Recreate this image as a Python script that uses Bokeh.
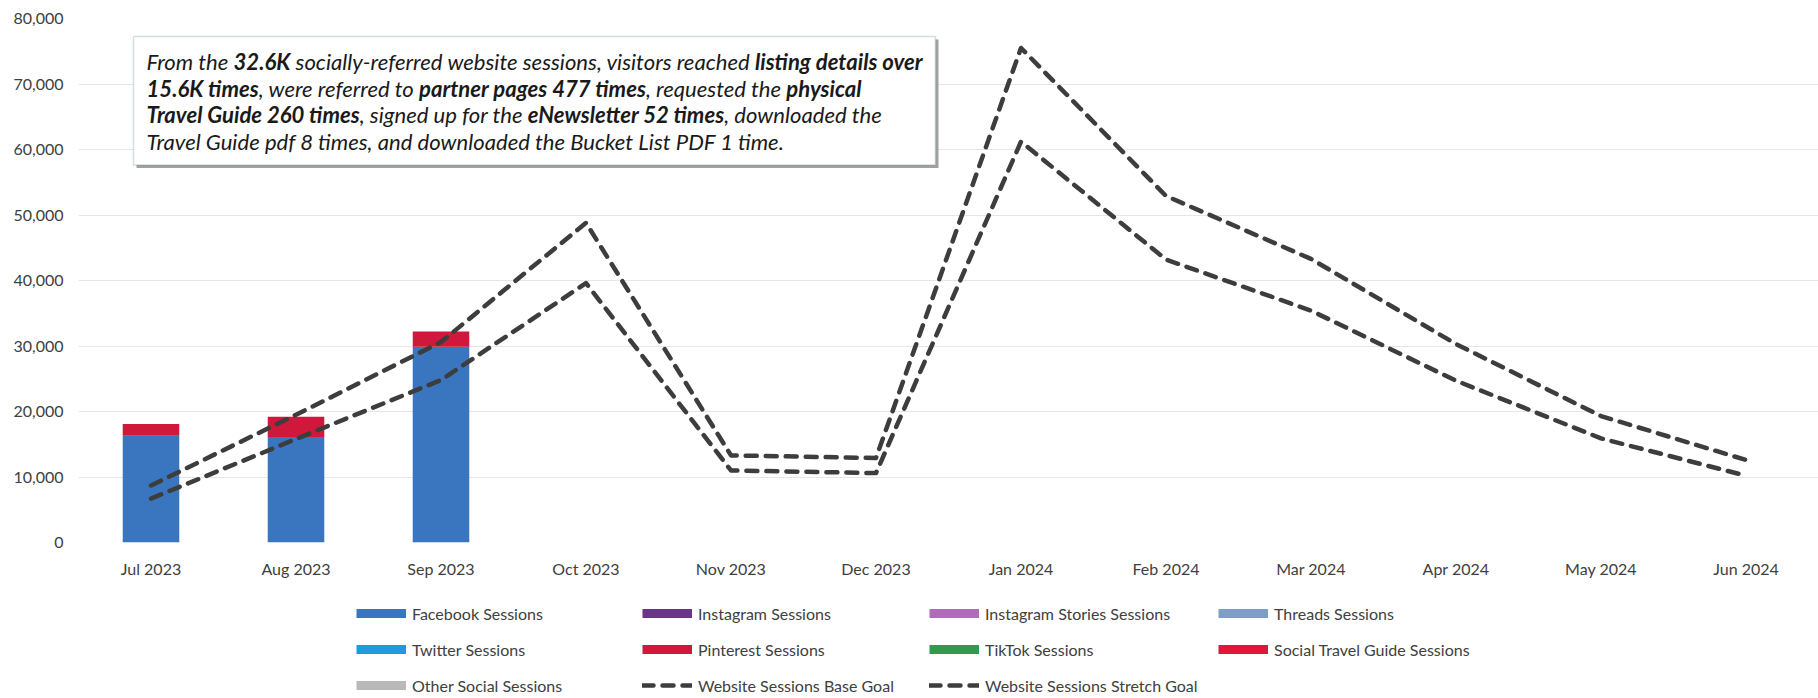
import glob
import os

from bokeh.plotting import figure
from bokeh.layouts import column
from bokeh.models import (FactorRange, Range1d, NumeralTickFormatter, FixedTicker,
                          Legend, LegendItem, Label, BoxAnnotation, ColumnDataSource)
from bokeh.embed import file_html
from bokeh.resources import INLINE

# ---------------- data ----------------
months = ["Jul 2023", "Aug 2023", "Sep 2023", "Oct 2023", "Nov 2023", "Dec 2023",
          "Jan 2024", "Feb 2024", "Mar 2024", "Apr 2024", "May 2024", "Jun 2024"]

facebook_sessions = [16300, 16100, 29900, 0, 0, 0, 0, 0, 0, 0, 0, 0]
instagram_sessions = [0, 0, 0, 0, 0, 0, 0, 0, 0, 0, 0, 0]
instagram_stories_sessions = [0, 0, 0, 0, 0, 0, 0, 0, 0, 0, 0, 0]
threads_sessions = [0, 0, 0, 0, 0, 0, 0, 0, 0, 0, 0, 0]
twitter_sessions = [0, 0, 0, 0, 0, 0, 0, 0, 0, 0, 0, 0]
pinterest_sessions = [1800, 3100, 2300, 0, 0, 0, 0, 0, 0, 0, 0, 0]
tiktok_sessions = [0, 0, 0, 0, 0, 0, 0, 0, 0, 0, 0, 0]
social_travel_guide_sessions = [0, 0, 0, 0, 0, 0, 0, 0, 0, 0, 0, 0]
other_social_sessions = [0, 0, 0, 0, 0, 0, 0, 0, 0, 0, 0, 0]

base_goal = [6700, 15800, 24800, 39600, 11000, 10600, 61200, 43200, 35400, 24700, 15900, 10200]
stretch_goal = [8700, 19500, 30600, 48800, 13300, 12900, 75500, 52900, 43300, 30300, 19300, 12600]

bar_series = ["Facebook Sessions", "Instagram Sessions", "Instagram Stories Sessions",
              "Threads Sessions", "Twitter Sessions", "Pinterest Sessions", "TikTok Sessions",
              "Social Travel Guide Sessions", "Other Social Sessions"]
bar_colors = ["#3a76c0", "#6a3586", "#b06cb8", "#7f9ec6", "#1e9be0", "#d0173c",
              "#2e9b4e", "#e0173a", "#b9b9b9"]
base_label = "Website Sessions Base Goal"
stretch_label = "Website Sessions Stretch Goal"

y_ticks = [0, 10000, 20000, 30000, 40000, 50000, 60000, 70000, 80000]

note_lines = [
    [("From the ", "n"), ("32.6K", "b"), (" socially-referred website sessions, visitors reached ", "n"),
     ("listing details over", "b")],
    [("15.6K times", "b"), (", were referred to ", "n"), ("partner pages 477 times", "b"),
     (", requested the ", "n"), ("physical", "b")],
    [("Travel Guide 260 times", "b"), (", signed up for the ", "n"), ("eNewsletter 52 times", "b"),
     (", downloaded the", "n")],
    [("Travel Guide pdf 8 times, and downloaded the Bucket List PDF 1 time.", "n")],
]

# ---------------- layout constants ----------------
W = 1818
H_MAIN, H_LEG = 580, 118
FL, FR, FT, FB = 78, 0, 18, 36          # frame borders of main figure
frame_w = W - FL - FR
frame_h = H_MAIN - FT - FB
PXU = frame_w / len(months)
PYU = frame_h / (y_ticks[-1] - y_ticks[0])
FRAME_BOTTOM = H_MAIN - FB


def xd(px):
    return (px - FL) / PXU


def yd(py):
    return (FRAME_BOTTOM - py) / PYU


FONT = "Lato"
TXT = "#404040"

p = figure(x_range=FactorRange(*months), y_range=Range1d(y_ticks[0], y_ticks[-1]),
           width=W, height=H_MAIN, output_backend="svg", toolbar_location=None,
           min_border_left=FL, min_border_right=FR, min_border_top=FT, min_border_bottom=FB)
p.outline_line_color = None
p.background_fill_color = "white"
p.border_fill_color = "white"
p.xgrid.grid_line_color = None
p.ygrid.grid_line_color = "#e6e6e6"
p.ygrid.grid_line_width = 1

p.yaxis.ticker = FixedTicker(ticks=y_ticks)
p.yaxis.formatter = NumeralTickFormatter(format="0,0")
for ax in (p.xaxis[0], p.yaxis[0]):
    ax.axis_line_color = None
    ax.major_tick_line_color = None
    ax.minor_tick_line_color = None
    ax.major_tick_out = 0
    ax.major_tick_in = 0
    ax.minor_tick_out = 0
    ax.major_label_text_font = FONT
    ax.major_label_text_font_size = "16px"
    ax.major_label_text_color = TXT
p.xaxis.major_label_standoff = 16
p.yaxis.major_label_standoff = 15

# ---------------- bars ----------------
src = ColumnDataSource(dict(
    month=months,
    **{
        "Facebook Sessions": facebook_sessions,
        "Instagram Sessions": instagram_sessions,
        "Instagram Stories Sessions": instagram_stories_sessions,
        "Threads Sessions": threads_sessions,
        "Twitter Sessions": twitter_sessions,
        "Pinterest Sessions": pinterest_sessions,
        "TikTok Sessions": tiktok_sessions,
        "Social Travel Guide Sessions": social_travel_guide_sessions,
        "Other Social Sessions": other_social_sessions,
    }))
p.vbar_stack(bar_series, x="month", width=0.39, source=src, color=bar_colors, line_color=None)

# ---------------- goal lines ----------------
line_kw = dict(line_color="#3d3d3d", line_width=4.5, line_dash="11 9", line_cap="round", line_join="round")
p.line(months, base_goal, **line_kw)
p.line(months, stretch_goal, **line_kw)

# ---------------- note box ----------------
box_l, box_r, box_t, box_b = 133, 935, 36, 165
shadow = BoxAnnotation(left=xd(box_l + 3), right=xd(box_r + 3), top=yd(box_t + 3), bottom=yd(box_b + 3),
                       fill_color="#8a8a8a", fill_alpha=0.8, line_color=None)
box = BoxAnnotation(left=xd(box_l), right=xd(box_r), top=yd(box_t), bottom=yd(box_b),
                    fill_color="white", fill_alpha=1.0, line_color="#6a9498", line_width=1.5)
p.add_layout(shadow)
p.add_layout(box)


def find_font(fname):
    for d in ["/usr/share/fonts", "/usr/local/share/fonts",
              os.path.expanduser("~/.fonts"), os.path.expanduser("~/.local/share/fonts")]:
        hits = glob.glob(os.path.join(d, "**", fname), recursive=True)
        if hits:
            return hits[0]
    return None


measure = None
try:
    from PIL import ImageFont
    f_n = find_font("Lato-Italic.ttf")
    f_b = find_font("Lato-BoldItalic.ttf")
    if f_n and f_b:
        fonts = {"n": ImageFont.truetype(f_n, 100), "b": ImageFont.truetype(f_b, 100)}

        def measure(text, style, size):
            return fonts[style].getlength(text) * size / 100.0
except Exception:
    measure = None

if measure is None:
    def measure(text, style, size):
        return len(text) * size * (0.47 if style == "n" else 0.5)

target_w = 776.0
w100 = sum(measure(t, s, 100) for t, s in note_lines[0])
note_fs = round(target_w / w100 * 100, 1) if w100 > 0 else 17.0

text_left = 146
line_y = [61, 88, 114.5, 141]
for segs, ly in zip(note_lines, line_y):
    cur = text_left
    for t, s in segs:
        lead = len(t) - len(t.lstrip(" "))
        shown = t.strip(" ")
        x0 = cur + measure(" " * lead, s, note_fs)
        p.add_layout(Label(x=xd(x0), y=yd(ly), text=shown, text_font=FONT,
                           text_font_size=f"{note_fs}px",
                           text_font_style="bold italic" if s == "b" else "italic",
                           text_color="#1a1a1a", text_align="left", text_baseline="middle"))
        cur += measure(t, s, note_fs)

# ---------------- legend strip (separate figure below, frame aligned with main) ----------------
lp = figure(width=W, height=H_LEG, x_range=Range1d(0, 1), y_range=Range1d(0, 1),
            output_backend="svg", toolbar_location=None,
            min_border_left=0, min_border_right=0, min_border_top=0, min_border_bottom=0)
lp.axis.visible = False
lp.grid.visible = False
lp.outline_line_color = None
lp.background_fill_color = "white"
lp.border_fill_color = "white"

nan = float("nan")
swatches = {}
for name, color in zip(bar_series, bar_colors):
    swatches[name] = lp.line(x=[nan], y=[nan], line_color=color, line_width=9)
swatches[base_label] = lp.line(x=[nan], y=[nan], **line_kw)
swatches[stretch_label] = lp.line(x=[nan], y=[nan], **line_kw)

legend_cols = [
    ["Facebook Sessions", "Twitter Sessions", "Other Social Sessions"],
    ["Instagram Sessions", "Pinterest Sessions", base_label],
    ["Instagram Stories Sessions", "TikTok Sessions", stretch_label],
    ["Threads Sessions", "Social Travel Guide Sessions"],
]
col_left_px = [356, 642, 929, 1218]
row1_top = 603 - H_MAIN
ITEM_H, SPACING = 20, 16
for names, lx in zip(legend_cols, col_left_px):
    n = len(names)
    height = n * ITEM_H + (n - 1) * SPACING
    leg = Legend(items=[LegendItem(label=nm, renderers=[swatches[nm]]) for nm in names],
                 location=(lx - FL, H_LEG - (row1_top + height)),
                 orientation="vertical", glyph_width=50, glyph_height=ITEM_H, label_height=ITEM_H,
                 label_standoff=6, spacing=SPACING, padding=0, margin=0,
                 border_line_color=None, background_fill_alpha=0,
                 label_text_font=FONT, label_text_font_size="16px", label_text_color=TXT)
    lp.add_layout(leg, "center")

open("out.html", "w").write(file_html(column(p, lp, spacing=0), INLINE))
